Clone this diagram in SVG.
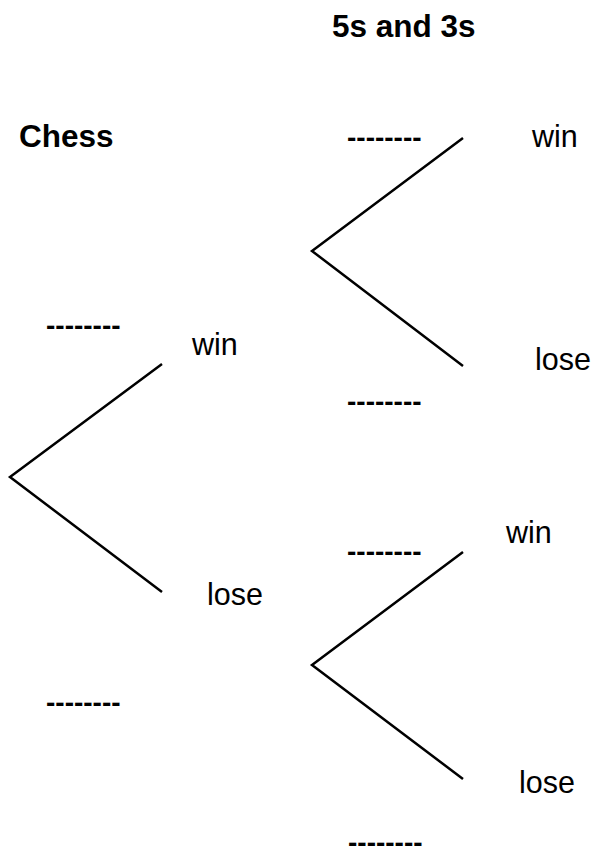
<svg xmlns="http://www.w3.org/2000/svg" width="593" height="862" viewBox="0 0 593 862">
<style>
text { font-family: "Liberation Sans", Arial, sans-serif; font-size: 30.5px; fill: #000; }
.b { font-weight: bold; font-size: 31.5px; }
.d { font-size: 28px; font-weight: bold; }
.edge { stroke: #000; stroke-width: 2.5; fill: none; }
</style>
<rect width="593" height="862" fill="#fff"/>
<g id="connectors">
  <polyline class="edge" points="162,364 10,477 162,592"/>
  <polyline class="edge" points="463,138 312,251 463,366"/>
  <polyline class="edge" points="463,552 312,665 463,779"/>
</g>
<g id="title-5s3s"><text class="b" x="332" y="37">5s and 3s</text></g>
<g id="title-chess"><text class="b" x="19" y="147">Chess</text></g>
<g id="chess-win">
  <text class="d" x="46" y="335">--------</text>
  <text x="192" y="355">win</text>
</g>
<g id="chess-lose">
  <text x="207" y="605">lose</text>
  <text class="d" x="46" y="712">--------</text>
</g>
<g id="a-win">
  <text class="d" x="347" y="147">--------</text>
  <text x="532" y="147">win</text>
</g>
<g id="a-lose">
  <text x="535" y="370">lose</text>
  <text class="d" x="347" y="411">--------</text>
</g>
<g id="b-win">
  <text class="d" x="347" y="561">--------</text>
  <text x="506" y="543">win</text>
</g>
<g id="b-lose">
  <text x="519" y="793">lose</text>
  <text class="d" x="348" y="852">--------</text>
</g>
</svg>
